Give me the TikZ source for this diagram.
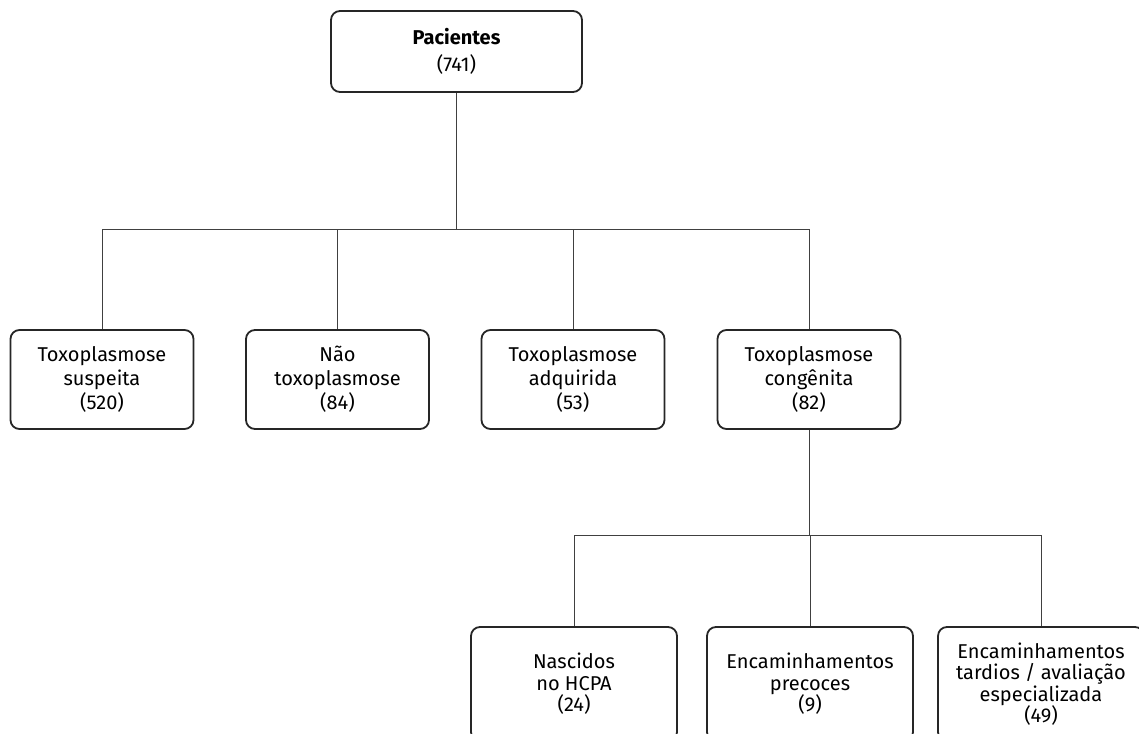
\documentclass[tikz,border=0pt]{standalone}
\usepackage{fontspec}
\setmainfont{Fira Sans}
\begin{document}
\begin{tikzpicture}[x=1pt,y=-1pt,
	caixa/.style={draw=black!85,line width=1.8pt,rounded corners=9pt,align=center,inner sep=0pt,font=\fontsize{20}{24}\selectfont},
	nivel2/.style={caixa,minimum width=183pt,minimum height=99pt},
	nivel3/.style={caixa,minimum width=206pt,minimum height=114pt,font=\fontsize{20}{21.5}\selectfont},
	liga/.style={black!75,line width=1pt}]
		\useasboundingbox (0,0) rectangle (1139,733);
		\node[caixa,minimum width=251pt,minimum height=81pt,font=\fontsize{20}{27}\selectfont] (pac) at(456.5,51.5) {\textbf{Pacientes}\\(741)};
		
		\node[nivel2] (ts) at(102,379.5) {Toxoplasmose\\suspeita\\(520)};
		\node[nivel2] (nt) at(337.5,379.5) {Não\\toxoplasmose\\(84)};
		\node[nivel2] (ta) at(573,379.5) {Toxoplasmose\\adquirida\\(53)};
		\node[nivel2] (tc) at(809,379.5) {Toxoplasmose\\congênita\\(82)};
		
		\node[nivel3] (nh) at(574,684) {Nascidos\\no HCPA\\(24)};
		\node[nivel3] (ep) at(810,684) {Encaminhamentos\\precoces\\(9)};
		\node[nivel3] (et) at(1041,684) {Encaminhamentos\\tardios / avaliação\\especializada\\(49)};
		
		\coordinate (j1) at(456.5,229);
		\coordinate (j2) at(809,535);
		
		\draw[liga] (pac.south) -- (j1);
		\draw[liga] (ts.north) |- (j1);
		\draw[liga] (nt.north) |- (j1);
		\draw[liga] (ta.north) |- (j1);
		\draw[liga] (tc.north) |- (j1);
		
		\draw[liga] (tc.south) -- (j2);
		\draw[liga] (nh.north) |- (j2);
		\draw[liga] (ep.north) |- (j2);
		\draw[liga] (et.north) |- (j2);
		\end{tikzpicture}
\end{document}
